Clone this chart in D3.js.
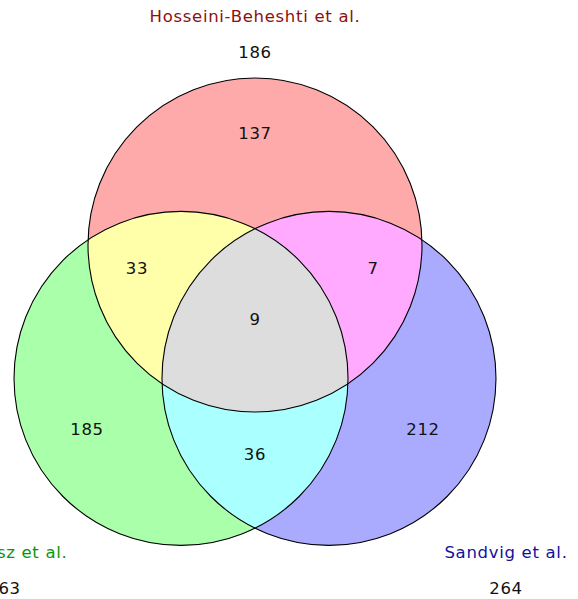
<!DOCTYPE html>
<html>
<head>
<meta charset="utf-8">
<script src="https://cdn.jsdelivr.net/npm/d3@7"></script>
<style>
  body { margin: 0; background: #fff; }
  svg { display: block; }
  text { font-family: "DejaVu Sans", Verdana, sans-serif; font-size: 16.5px; letter-spacing: 0.7px; }
</style>
</head>
<body>
<svg id="chart" width="578" height="599"></svg>
<script>
// data
const setNames = ["Hosseini-Beheshti et al.", "Duijvesz et al.", "Sandvig et al."];
const setTotals = [186, 263, 264];
const setLabelColors = ["#8b1111", "#0a960a", "#12129a"];
const regionKeys = ["A", "B", "C", "AB", "AC", "BC", "ABC"];
const regionCounts = [137, 185, 212, 33, 7, 36, 9];

// layout (units of one circle radius, origin = middle of diagram)
const circleCenters = [[0, -0.533], [-0.443, 0.266], [0.443, 0.266]];
const circleFills = ["#ffaaaa", "#aaffaa", "#aaaaff"];
const pairFills = { AB: "#ffffaa", AC: "#ffaaff", BC: "#aaffff", ABC: "#dddddd" };
const regionSpots = {
  A: [0, -1.204], B: [-1.006, 0.569], C: [1.006, 0.569],
  AB: [-0.707, -0.395], AC: [0.707, -0.395], BC: [0, 0.719], ABC: [0, -0.09]
};
const nameSpots = [[0, -1.904], [-1.503, 1.305], [1.503, 1.305]];
const totalSpots = [[0, -1.689], [-1.503, 1.521], [1.503, 1.521]];

const R = 167;
const x = d3.scaleLinear().domain([0, 1]).range([255, 255 + R]);
const y = d3.scaleLinear().domain([0, 1]).range([334, 334 + R]);
const r = d3.scaleLinear().domain([0, 1]).range([0, R]);

const svg = d3.select("#chart");
const defs = svg.append("defs");
const ids = ["A", "B", "C"];

defs.selectAll("clipPath")
  .data(circleCenters)
  .enter()
  .append("clipPath")
  .attr("id", (d, i) => "clip" + ids[i])
  .append("circle")
  .attr("cx", d => x(d[0]))
  .attr("cy", d => y(d[1]))
  .attr("r", r(1));

// single sets
svg.append("g").selectAll("circle")
  .data(circleCenters)
  .enter()
  .append("circle")
  .attr("cx", d => x(d[0]))
  .attr("cy", d => y(d[1]))
  .attr("r", r(1))
  .attr("fill", (d, i) => circleFills[i]);

// pairwise overlaps: circle j clipped by circle i
const pairs = [["AB", 0, 1], ["AC", 0, 2], ["BC", 1, 2]];
pairs.forEach(function (p) {
  const c = circleCenters[p[2]];
  svg.append("circle")
    .attr("cx", x(c[0]))
    .attr("cy", y(c[1]))
    .attr("r", r(1))
    .attr("clip-path", "url(#clip" + ids[p[1]] + ")")
    .attr("fill", pairFills[p[0]]);
});

// triple overlap
const cB = circleCenters[1];
svg.append("g")
  .attr("clip-path", "url(#clipA)")
  .append("circle")
  .attr("cx", x(cB[0]))
  .attr("cy", y(cB[1]))
  .attr("r", r(1))
  .attr("clip-path", "url(#clipC)")
  .attr("fill", pairFills.ABC);

// outlines
svg.append("g").selectAll("circle")
  .data(circleCenters)
  .enter()
  .append("circle")
  .attr("cx", d => x(d[0]))
  .attr("cy", d => y(d[1]))
  .attr("r", r(1))
  .attr("fill", "none")
  .attr("stroke", "#000")
  .attr("stroke-width", 1.1);

// region counts
svg.append("g").selectAll("text")
  .data(regionKeys)
  .enter()
  .append("text")
  .attr("x", k => x(regionSpots[k][0]))
  .attr("y", k => y(regionSpots[k][1]))
  .attr("dy", "0.36em")
  .attr("text-anchor", "middle")
  .attr("fill", "#111")
  .text((k, i) => regionCounts[i]);

// set names and totals
svg.append("g").selectAll("text")
  .data(setNames)
  .enter()
  .append("text")
  .attr("x", (d, i) => x(nameSpots[i][0]))
  .attr("y", (d, i) => y(nameSpots[i][1]))
  .attr("dy", "0.36em")
  .attr("text-anchor", "middle")
  .attr("fill", (d, i) => setLabelColors[i])
  .text(d => d);

svg.append("g").selectAll("text")
  .data(setTotals)
  .enter()
  .append("text")
  .attr("x", (d, i) => x(totalSpots[i][0]))
  .attr("y", (d, i) => y(totalSpots[i][1]))
  .attr("dy", "0.36em")
  .attr("text-anchor", "middle")
  .attr("fill", "#111")
  .text(d => d);
</script>
</body>
</html>
